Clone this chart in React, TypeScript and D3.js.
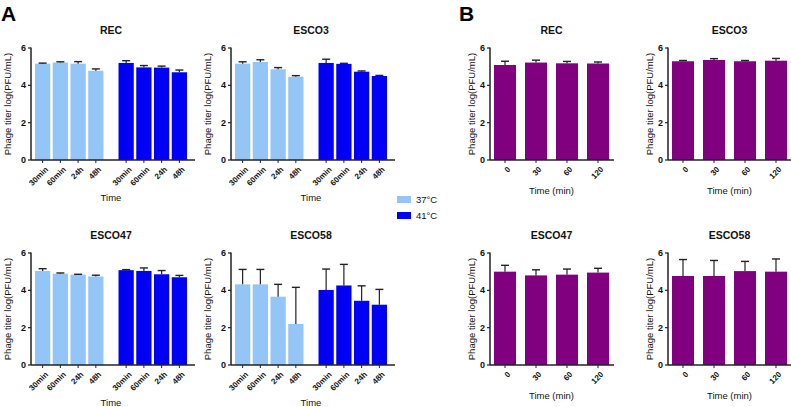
import React from 'react';
import * as d3 from 'd3';

const strains = ['REC', 'ESCO3', 'ESCO47', 'ESCO58'];
const timesA = ['30min', '60min', '24h', '48h'];
const temps = ['37°C', '41°C'];
const timesB = ['0', '30', '60', '120'];
const yTicks = [0, 2, 4, 6];

// A: mean and SD per strain (rows) and time (cols)
const mean37 = [
  [5.16, 5.22, 5.16, 4.78],
  [5.16, 5.25, 4.86, 4.46],
  [5.04, 4.89, 4.84, 4.74],
  [4.32, 4.32, 3.66, 2.2],
];
const sd37 = [
  [0.03, 0.04, 0.11, 0.1],
  [0.1, 0.12, 0.09, 0.06],
  [0.12, 0.04, 0.02, 0.07],
  [0.8, 0.8, 0.66, 1.96],
];
const mean41 = [
  [5.2, 4.96, 4.95, 4.7],
  [5.2, 5.15, 4.73, 4.5],
  [5.08, 5.04, 4.86, 4.7],
  [4.02, 4.26, 3.44, 3.23],
];
const sd41 = [
  [0.12, 0.1, 0.08, 0.12],
  [0.2, 0.03, 0.04, 0.03],
  [0.03, 0.16, 0.2, 0.1],
  [1.12, 1.13, 0.8, 0.82],
];

// B
const meanB = [
  [5.09, 5.22, 5.18, 5.17],
  [5.29, 5.36, 5.29, 5.32],
  [5.0, 4.8, 4.84, 4.95],
  [4.77, 4.77, 5.03, 5.0],
];
const sdB = [
  [0.2, 0.13, 0.1, 0.08],
  [0.04, 0.07, 0.04, 0.12],
  [0.34, 0.3, 0.3, 0.23],
  [0.88, 0.83, 0.52, 0.68],
];

const colors = { c37: '#94c5f7', c41: '#0000f5', purple: '#800080' };
const font = 'Arial, "Liberation Sans", Helvetica, sans-serif';
const axisColor = '#222';

type Bar = { key: string; label: string; x: number; w: number; v: number; e: number; color: string };

function Panel(props: {
  title: string;
  ox: number;
  oy: number;
  xEnd: number;
  bars: Bar[];
  xTitle: string;
  xTitleY: number;
  yLabelX: number;
}) {
  const { title, ox, oy, xEnd, bars, xTitle, xTitleY, yLabelX } = props;
  const y = d3.scaleLinear().domain([0, 6]).range([oy + 112, oy]);
  const y0 = y(0);
  const first = bars[0].x;
  const last = bars[bars.length - 1].x + bars[bars.length - 1].w;
  const cx = (first + last) / 2;
  return (
    <g fontFamily={font}>
      <text x={cx} y={oy - 14} textAnchor="middle" fontWeight="bold" fontSize={10.5} fill="#111">
        {title}
      </text>
      {bars.map((b) => (
        <g key={b.key}>
          <rect x={b.x} y={y(b.v)} width={b.w} height={y0 - y(b.v)} fill={b.color} />
          <line x1={b.x + b.w / 2} x2={b.x + b.w / 2} y1={y(b.v)} y2={y(b.v + b.e)} stroke="#222" strokeWidth={1.2} />
          <line x1={b.x + b.w / 2 - 4} x2={b.x + b.w / 2 + 4} y1={y(b.v + b.e)} y2={y(b.v + b.e)} stroke="#222" strokeWidth={1.4} />
          <line x1={b.x + b.w / 2} x2={b.x + b.w / 2} y1={y0} y2={y0 + 3} stroke={axisColor} strokeWidth={1} />
          <text
            transform={`translate(${b.x + b.w / 2 + 2},${y0 + 6}) rotate(-45)`}
            textAnchor="end"
            dy="0.7em"
            fontSize={8}
            fontWeight="bold"
            fill="#111"
          >
            {b.label}
          </text>
        </g>
      ))}
      <line x1={ox} x2={ox} y1={y(6) - 0.5} y2={y0} stroke={axisColor} strokeWidth={1.5} />
      <line x1={ox} x2={xEnd} y1={y0} y2={y0} stroke={axisColor} strokeWidth={1.5} />
      {yTicks.map((t) => (
        <g key={t}>
          <line x1={ox - 3} x2={ox} y1={y(t)} y2={y(t)} stroke={axisColor} strokeWidth={1.2} />
          <text x={ox - 5} y={y(t)} dy="0.35em" textAnchor="end" fontSize={9} fontWeight="bold" fill="#111">
            {t}
          </text>
        </g>
      ))}
      <text
        transform={`translate(${yLabelX},${(y(6) + y0) / 2}) rotate(-90)`}
        textAnchor="middle"
        dy="0.35em"
        fontSize={9.5}
        fill="#111"
      >
        Phage titer log(PFU/mL)
      </text>
      <text x={cx} y={xTitleY} textAnchor="middle" fontSize={9.5} fill="#111">
        {xTitle}
      </text>
    </g>
  );
}

export default function App() {
  const rowDy = 205;

  const panelsA = strains.map((s, i) => {
    const dx = (i % 2) * 200;
    const dy = Math.floor(i / 2) * rowDy;
    const group = d3.scaleBand<string>().domain(temps).range([35 + dx, 187 + dx]).paddingInner(0.18).paddingOuter(0);
    const inner = d3.scaleBand<string>().domain(timesA).range([0, group.bandwidth()]).paddingInner(0.14).paddingOuter(0);
    const bars: Bar[] = [];
    temps.forEach((tp, g) => {
      timesA.forEach((t, j) => {
        bars.push({
          key: `${tp}-${t}`,
          label: t,
          x: (group(tp) as number) + (inner(t) as number),
          w: inner.bandwidth(),
          v: g === 0 ? mean37[i][j] : mean41[i][j],
          e: g === 0 ? sd37[i][j] : sd41[i][j],
          color: g === 0 ? colors.c37 : colors.c41,
        });
      });
    });
    return (
      <Panel
        key={`A-${s}`}
        title={s}
        ox={31 + dx}
        oy={48 + dy}
        xEnd={195 + dx}
        bars={bars}
        xTitle="Time"
        xTitleY={201 + dy}
        yLabelX={8 + dx}
      />
    );
  });

  const panelsB = strains.map((s, i) => {
    const dx = (i % 2) * 178;
    const dy = Math.floor(i / 2) * rowDy;
    const xb = d3.scaleBand<string>().domain(timesB).range([494 + dx, 609 + dx]).paddingInner(0.29).paddingOuter(0);
    const bars: Bar[] = timesB.map((t, j) => ({
      key: t,
      label: t,
      x: xb(t) as number,
      w: xb.bandwidth(),
      v: meanB[i][j],
      e: sdB[i][j],
      color: colors.purple,
    }));
    return (
      <Panel
        key={`B-${s}`}
        title={s}
        ox={490 + dx}
        oy={48 + dy}
        xEnd={Math.min(614 + dx, 791)}
        bars={bars}
        xTitle="Time (min)"
        xTitleY={194 + dy}
        yLabelX={472 + dx}
      />
    );
  });

  return (
    <svg
      width={791}
      height={407}
      viewBox="0 0 791 407"
      style={{ position: 'absolute', left: 0, top: 0, background: '#fff' }}
    >
      <rect width={791} height={407} fill="#fff" />
      <text x={1} y={21} fontFamily={font} fontWeight="bold" fontSize={21} fill="#000">
        A
      </text>
      <text x={459} y={21} fontFamily={font} fontWeight="bold" fontSize={21} fill="#000">
        B
      </text>
      {panelsA}
      {panelsB}
      <g fontFamily={font} fontSize={9.5} fill="#111">
        {temps.map((t, i) => (
          <g key={t}>
            <rect x={397} y={196 + i * 16} width={14} height={7} fill={i === 0 ? colors.c37 : colors.c41} />
            <text x={416} y={199.5 + i * 16} dy="0.35em">
              {t}
            </text>
          </g>
        ))}
      </g>
    </svg>
  );
}
